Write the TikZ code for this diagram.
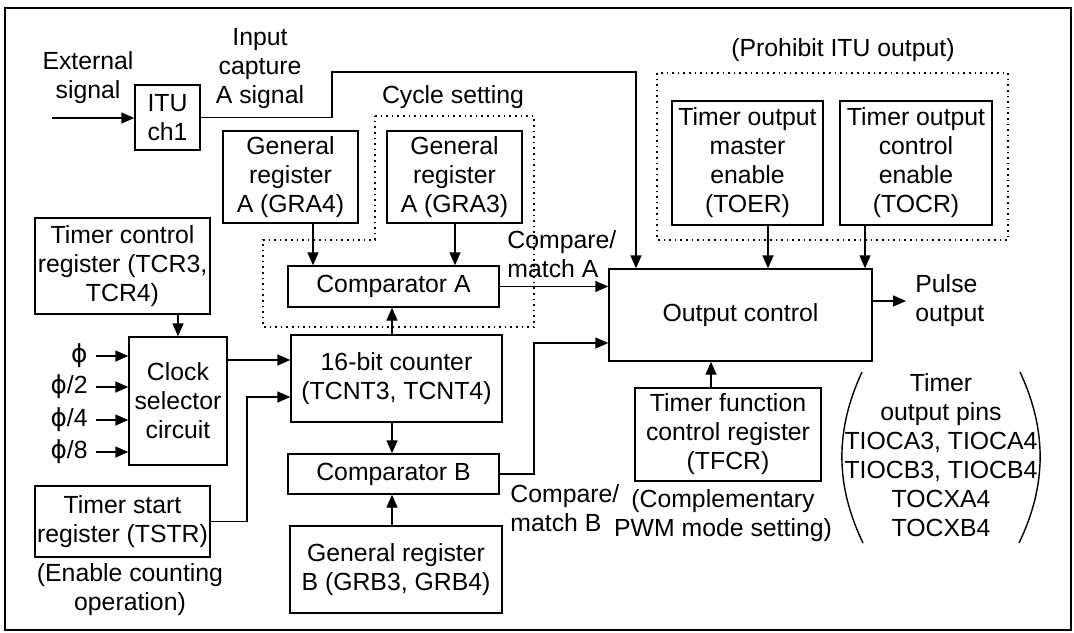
\documentclass[tikz,border=0pt]{standalone}
\usepackage{fontspec}
\setmainfont{Liberation Sans}
\newfontfamily\symfont{DejaVu Sans}
\usetikzlibrary{arrows.meta}
\newcommand{\phisym}{{\symfont ϕ}}

\begin{document}
\begin{tikzpicture}[x=0.5pt,y=-0.5pt,
    font=\fontsize{12.4}{14.5}\selectfont,
    box/.style={draw,line width=0.7pt,align=center,inner sep=0pt},
    wh/.style 2 args={minimum width=#1*0.5pt,minimum height=#2*0.5pt},
    txt/.style={align=center,inner sep=0pt},
    arr/.style={-{Triangle[length=6.5pt,width=5.5pt]},line width=0.7pt},
    zone/.style={dotted,line width=0.8pt}]
            \useasboundingbox (0,0) rectangle (1074,632);
            \draw[line width=1pt] (5,8) rectangle (1071,630);
            \draw[zone] (375,116) -- (534,116) -- (534,327) -- (263,327) -- (263,240) -- (375,240) -- cycle;
            \draw[zone] (657,73) rectangle (1008,240);
            \node[txt] (ext) at (88,78) {External\\signal};
            \node[box,wh={65}{65}] (itu) at (167.5,117.5) {ITU\\ch1};
            \node[txt] (cap) at (260,69) {Input\\capture\\A signal};
            \node[txt] (cyc) at (453,97) {Cycle setting};
            \node[box,wh={135}{92}] (gra4) at (290.5,177) {General\\register\\A (GRA4)};
            \node[box,wh={135}{92}] (gra3) at (454.5,177) {General\\register\\A (GRA3)};
            \node[box,wh={211}{41}] (cmpa) at (393.5,286.5) {Comparator A};
            \node[txt,anchor=west,align=left] (cma) at (507,254) {Compare/\\match A};
            \node[box,wh={175}{96}] (tcr) at (122.5,266) {Timer control\\register (TCR3,\\TCR4)};
            \node[box,wh={98}{128}] (clk) at (178,401) {Clock\\selector\\circuit};
            \node[box,wh={211}{87}] (cnt) at (396.5,378.5) {16-bit counter\\(TCNT3, TCNT4)};
            \node[box,wh={175}{71}] (tstr) at (122.5,521.5) {Timer start\\register (TSTR)};
            \node[txt] (ena) at (130,590) {(Enable counting\\operation)};
            \node[box,wh={211}{40}] (cmpb) at (393.5,474) {Comparator B};
            \node[box,wh={212}{87}] (grb) at (396,569.5) {General register\\B (GRB3, GRB4)};
            \node[txt,anchor=west,align=left] (cmb) at (510,508) {Compare/\\match B};
            \node[txt] (pro) at (843,50) {(Prohibit ITU output)};
            \node[box,wh={151}{124}] (toer) at (747.5,163) {Timer output\\master\\enable\\(TOER)};
            \node[box,wh={152}{124}] (tocr) at (916,163) {Timer output\\control\\enable\\(TOCR)};
            \node[box,wh={263}{92}] (outc) at (740.5,315) {Output control};
            \node[txt,anchor=west,align=left,inner sep=4.5pt] (pulse) at (906,301) {Pulse\\output};
            \node[box,wh={186}{93}] (tfcr) at (728,434.5) {Timer function\\control register\\(TFCR)};
            \node[txt] (cpwm) at (723,516) {(Complementary\\PWM mode setting)};
            \node[txt] (pins) at (941,455.5) {Timer\\output pins\\TIOCA3, TIOCA4\\TIOCB3, TIOCB4\\TOCXA4\\TOCXB4};
            \coordinate (extin) at (52,118);
            \draw[arr] (extin) -- (itu.west |- extin);
            \draw[arr] (itu.east) -| (332,72) -| (outc.north -| 636,0);
            \draw[arr] (gra4.south -| 313,0) -- (cmpa.north -| 313,0);
            \draw[arr] (gra3.south -| 455,0) -- (cmpa.north -| 455,0);
            \draw[arr] (cmpa.east) -- (cmpa.east -| outc.west);
            \draw[arr] (tcr.south -| clk.north) -- (clk.north);
            \foreach \lab/\y in {{\phisym}/356,{\phisym/2}/387,{\phisym/4}/420,{\phisym/8}/452}{
                \node[anchor=east,inner sep=0pt] (phi\y) at (88,\y) {\lab};
                \draw[arr] ([xshift=4pt]phi\y.east) -- (phi\y.east -| clk.west);
            }
            \draw[arr] (clk.east |- 0,360) -- (cnt.west |- 0,360);
            \draw[arr] (tstr.east) -| (247,397) -- (cnt.west |- 0,397);
            \draw[arr] (cnt.north -| 392,0) -- (cmpa.south -| 392,0);
            \draw[arr] (cnt.south -| 392,0) -- (cmpb.north -| 392,0);
            \draw[arr] (grb.north -| 392,0) -- (cmpb.south -| 392,0);
            \draw[arr] (cmpb.east) -| (534,343) -- (outc.west |- 0,343);
            \draw[arr] (toer.south -| 768,0) -- (outc.north -| 768,0);
            \draw[arr] (tocr.south -| 865,0) -- (outc.north -| 865,0);
            \draw[arr] (outc.east |- pulse.west) -- (pulse.west);
            \draw[arr] (tfcr.north -| 711,0) -- (outc.south -| 711,0);
            \draw[line width=0.7pt] (862,372) .. controls (835,430) and (835,485) .. (863,543);
            \draw[line width=0.7pt] (1020,372) .. controls (1047,430) and (1047,485) .. (1019,543);
        \end{tikzpicture}
\end{document}
